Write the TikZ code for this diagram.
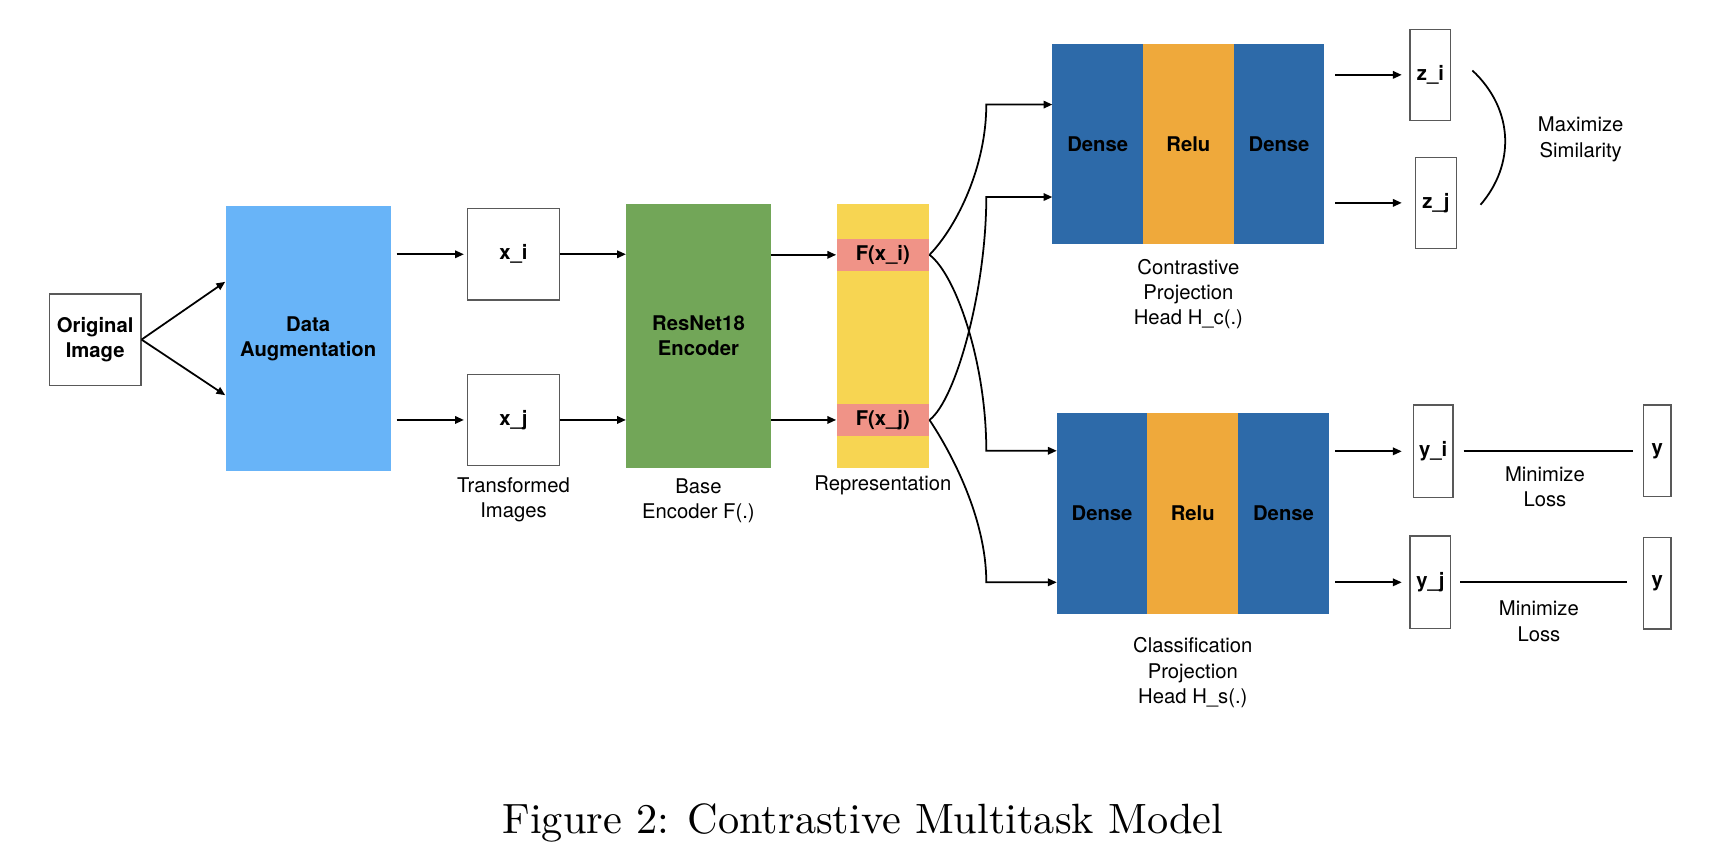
\documentclass[tikz,border=0pt]{standalone}
\usepackage{graphicx}
\usepackage{fontspec}
\setsansfont{TeX Gyre Heros}
\usetikzlibrary{positioning,arrows.meta}

\definecolor{augblue}{RGB}{104,180,248}
\definecolor{encgreen}{RGB}{114,166,88}
\definecolor{repyellow}{RGB}{247,213,82}
\definecolor{featpink}{RGB}{240,147,135}
\definecolor{denseblue}{RGB}{45,106,169}
\definecolor{reluorange}{RGB}{239,169,59}

\begin{document}
\begin{tikzpicture}
[x=0.5pt, y=-0.5pt,
every node/.style = {font=\sffamily\fontsize{9.2}{11.5}\selectfont,
	align=center, inner sep=0pt,
},
block/.style = {font=\sffamily\bfseries\fontsize{9.2}{11.5}\selectfont},
box/.style = {block, draw=black!65, line width=0.6pt},
layer/.style = {block, outer sep=0pt, minimum width=41.2pt, minimum height=91pt},
arr/.style = {-{Triangle[length=4pt,width=3.4pt]}, line width=0.8pt},
]
\useasboundingbox (0,0) rectangle (1568,783);

\node[box, minimum width=41.5pt, minimum height=41.5pt] (orig) at (86.5,308.5) {Original\\Image};
\node[block, fill=augblue, minimum width=75pt, minimum height=120.5pt] (aug) at (280,307.5) {Data\\Augmentation};
\node[box, minimum width=41.5pt, minimum height=41.5pt] (xi) at (466.5,231) {x\_i};
\node[box, minimum width=41.5pt, minimum height=41.5pt] (xj) at (466.5,381.5) {x\_j};
\node[block, fill=encgreen, minimum width=65.5pt, minimum height=120pt] (enc) at (634.5,305) {ResNet18\\Encoder};
\node[fill=repyellow, minimum width=42pt, minimum height=120pt] (rep) at (802,305) {};
\node[block, fill=featpink, minimum width=42pt, minimum height=14.5pt] (fxi) at (802,231.5) {F(x\_i)};
\node[block, fill=featpink, minimum width=42pt, minimum height=14.5pt] (fxj) at (802,381.5) {F(x\_j)};

\node[layer, fill=denseblue] (hcA) at (997.2,131) {Dense};
\node[layer, fill=reluorange, right=0pt of hcA] (hcB) {Relu};
\node[layer, fill=denseblue, right=0pt of hcB] (hcC) {Dense};
\node[layer, fill=denseblue] (hsA) at (1001.2,466.5) {Dense};
\node[layer, fill=reluorange, right=0pt of hsA] (hsB) {Relu};
\node[layer, fill=denseblue, right=0pt of hsB] (hsC) {Dense};

\node[below=5pt of xj] (xlab) {Transformed\\Images};
\node[below=4.5pt of enc] (enclab) {Base\\Encoder F(.)};
\node[below=3.3pt of rep] (replab) {Representation};
\node[below=6.4pt of hcB] (hclab) {Contrastive\\Projection\\Head H\_c(.)};
\node[below=10.7pt of hsB] (hslab) {Classification\\Projection\\Head H\_s(.)};

\node[box, minimum width=18.5pt, minimum height=41.2pt] (zi) at (1299.5,68) {z\_i};
\node[box, minimum width=18.5pt, minimum height=41.2pt] (zj) at (1304.5,184.3) {z\_j};
\node[box, minimum width=18pt, minimum height=42pt] (yi) at (1302,410) {y\_i};
\node[box, minimum width=18.5pt, minimum height=42pt] (yj) at (1299.5,529) {y\_j};
\node[box, minimum width=12.5pt, minimum height=41.5pt] (ti) at (1505.5,409.5) {y};
\node[box, minimum width=12.5pt, minimum height=41.5pt] (tj) at (1505.5,530) {y};
\node[font=\sffamily\fontsize{9.2}{11.8}\selectfont] (maxsim) at (1436,126.6) {Maximize\\Similarity};
\node (lossi) at (1403.5,442) {Minimize\\Loss};
\node (lossj) at (1398,564.5) {Minimize\\Loss};

\node[font=\rmfamily\fontsize{10}{12}\selectfont] (caption) at (784,748) {\scalebox{1.923}{Figure 2: Contrastive Multitask Model}};

\coordinate (hcin1) at ([yshift=18pt]hcA.west);
\coordinate (hcin2) at ([yshift=-24pt]hcA.west);
\coordinate (hsin1) at ([yshift=28.5pt]hsA.west);
\coordinate (hsin2) at ([yshift=-31.25pt]hsA.west);

\draw[arr] (orig.east) -- ([yshift=25.75pt]aug.west);
\draw[arr] (orig.east) -- ([yshift=-25.75pt]aug.west);
\draw[arr, shorten <=2.5pt, shorten >=1.5pt] (aug.east |- xi.west) -- (xi.west);
\draw[arr, shorten <=2.5pt, shorten >=1.5pt] (aug.east |- xj.west) -- (xj.west);
\draw[arr] (xi.east) -- (enc.west |- xi.east);
\draw[arr] (xj.east) -- (enc.west |- xj.east);
\draw[arr] (enc.east |- fxi.west) -- (fxi.west);
\draw[arr] (enc.east |- fxj.west) -- (fxj.west);

\draw[arr] (fxi.east) .. controls +(13pt,13.5pt) and +(0pt,-27.5pt) .. ([xshift=-30pt]hcin1) -- (hcin1);
\draw[arr] (fxi.east) .. controls +(12pt,-9pt) and +(0pt,40pt) .. ([xshift=-32pt]hsin1) -- (hsin1);
\draw[arr] (fxj.east) .. controls +(12pt,9pt) and +(0pt,-42pt) .. ([xshift=-30pt]hcin2) -- (hcin2);
\draw[arr] (fxj.east) .. controls +(10pt,-15pt) and +(0pt,29pt) .. ([xshift=-32pt]hsin2) -- (hsin2);

\draw[arr, shorten <=5pt, shorten >=3.5pt] (hcC.east |- zi.west) -- (zi.west);
\draw[arr, shorten <=5pt, shorten >=6pt] (hcC.east |- zj.west) -- (zj.west);
\draw[arr, shorten <=3pt, shorten >=5pt] (hsC.east |- yi.west) -- (yi.west);
\draw[arr, shorten <=3pt, shorten >=3.5pt] (hsC.east |- yj.west) -- (yj.west);

\draw[line width=0.8pt] (1337.6,64) .. controls (1376,100) and (1376,150) .. (1345,186);
\draw[line width=0.8pt, shorten <=4.5pt, shorten >=4.5pt] (yi.east) -- (ti.west |- yi.east);
\draw[line width=0.8pt, shorten <=4pt, shorten >=7pt] (yj.east) -- (tj.west |- yj.east);

\end{tikzpicture}
\end{document}
